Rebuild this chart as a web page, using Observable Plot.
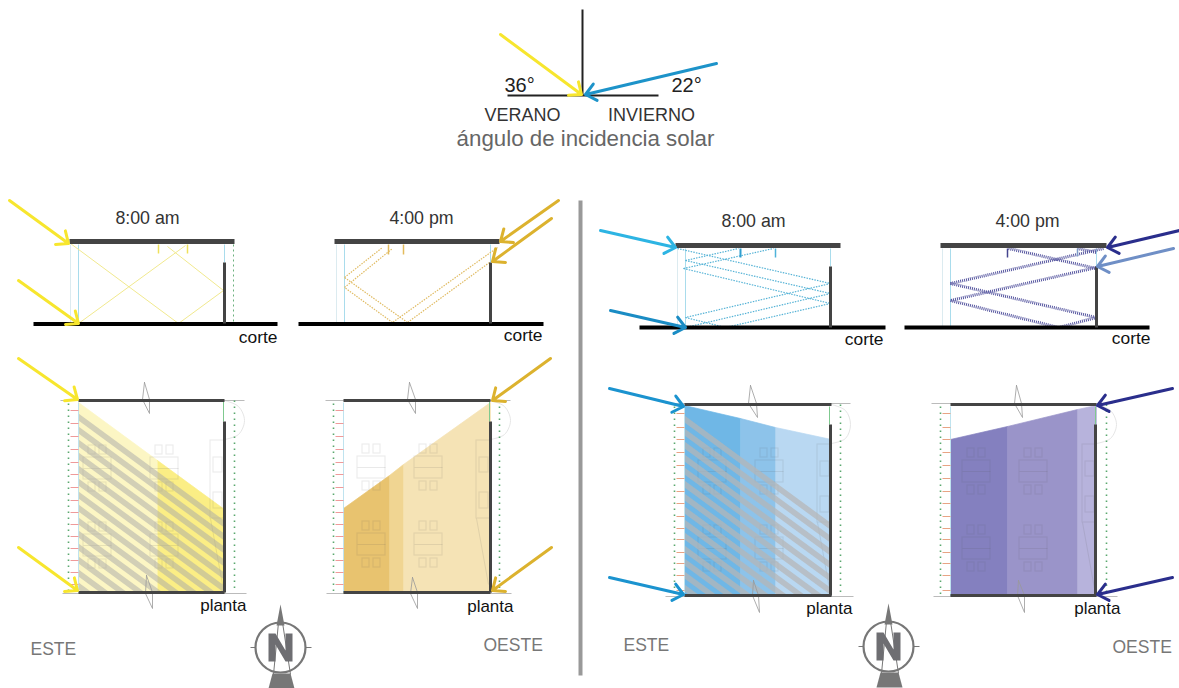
<!DOCTYPE html>
<html><head><meta charset="utf-8">
<style>html,body{margin:0;padding:0;background:#fff}svg{display:block}</style>
<script src="https://cdn.jsdelivr.net/npm/d3@7"></script>
<script src="https://cdn.jsdelivr.net/npm/@observablehq/plot@0.6"></script>
</head><body><script>
const FONT = "'Liberation Sans', Arial, sans-serif";

// --- values (picture units, x right, y down) ---
const axisLines = [[582,9,582,95],[507,95,658,95]];
const incidenceArrows = [[500,34,581,94,"#f7e62e"],[716,63,585,94,"#1d93c9"]];

const roofs   = [[69,241,234,241],[334,241,499,241],[675,245,840,245],[940,245,1106,245]];
const grounds = [[33,323.5,277,323.5],[298,323.5,543,323.5],[639,327,885,327],[904,327,1149,327]];
const sectionWalls = [[224,262,224,323],[490,262,490,323],[830,266,830,327],[1096,266,1096,327]];
const glassLines = [[78,244,78,323],[344,244,344,323],[685,248,685,327],[950,248,950,327],[224,244,224,262],[490,244,490,262],[830,248,830,266],[1096,248,1096,266]];
const faintGlass = [[70,244,70,323],[336,244,336,323],[677,248,677,327],[942,248,942,327]];
const sectionGreenDots = [[233,244,233,323]];

const raysSummerAM = [[70,243,178,323],[178,323,223,290],[223,290,167,246],[78,323,185,245]];
const raysSummerPM = [[497,247,392,322],[489,262,407,322],[392,322,344,287],[407,322,344,277],[344,277,382,247],[344,287,392,248]];
const raysWinterAM = [[677,248,830,283],[685,260,830,293],[683,268,830,303],[830,283,685,317],[830,293,685,327],[685,317,725,327],[830,303,725,327],[685,260,738,248],[683,268,773,248]];
const raysWinterPM = [[1103,248,950,283],[1096,267,950,300],[950,283,1096,317],[950,300,1058,327],[1096,317,1058,327],[1008,248,1096,268],[1077,248,1096,252]];

const baffles = [
  [158,244,158,253,"#efe05a",1.5],[187,244,187,253,"#efe05a",1.5],
  [388,244,388,254,"#e3bb5c",1.5],[403,244,403,254,"#e3bb5c",1.5],
  [740,248,740,257,"#2f9fd0",2],[775,248,775,257,"#4fb3d9",1.5],
  [1007,248,1007,257,"#45458f",1.5],[1077,248,1077,256,"#7f9cc8",1.5]
];
const sectionArrows = [
  [9,200,68,243,"#f7e62e"],[18,280,78,323,"#f7e62e"],
  [558,200,500,241,"#dcb22e"],[551,218,492,261,"#dcb22e"],
  [600,230,675,247,"#2db4e3"],[610,310,685,327,"#1a8cc4"],
  [1179,230,1107,247,"#2a2e8c"],[1173,248,1097,266,"#6f8fc6"]
];
const planArrows = [
  [18,358,77,399,"#f7e62e"],[18,547,77,590,"#f7e62e"],
  [550,358,492,400,"#dcb22e"],[551,547,492,590,"#dcb22e"],
  [609,388,683,406,"#1b93cf"],[609,577,683,594,"#1b93cf"],
  [1172,388,1097,405,"#2a2e8c"],[1172,577,1097,594,"#2a2e8c"]
];

// sun patches on the floor plans: [colour, outline]
const sunPatches = [
  ["#fcf6c4",[[78,402],[157,460],[157,592],[78,592]]],
  ["#fbee85",[[157,460],[224,509],[224,592],[157,592]]],
  ["#e8c36f",[[343,508],[389,475],[389,592],[343,592]]],
  ["#f0d592",[[389,475],[403,464],[403,592],[389,592]]],
  ["#f5e3b5",[[403,464],[490,402],[490,592],[403,592]]],
  ["#6fb7e6",[[684,405],[740,418],[740,595],[684,595]]],
  ["#8dc3ea",[[740,418],[775,427],[775,595],[740,595]]],
  ["#b9d8f2",[[775,427],[831,439],[831,595],[775,595]]],
  ["#8480bf",[[950,439],[1007,426],[1007,595],[950,595]]],
  ["#9a94c9",[[1007,426],[1077,409],[1077,595],[1007,595]]],
  ["#b7b3dc",[[1077,409],[1096,405],[1096,595],[1077,595]]]
];
const stripeStartsEast = [413,426,439,452,465,478,491,504,517,530,543,556,569,582];
const stripeStartsWinter = [415,428,441,454,467,480,493,506,519,532,545,558,571,584];

const planWalls = [
  [78,400,224,400],[78,592,224,592],[224,421,224,592],
  [343,400,490,400],[343,592,490,592],[490,421,490,592],
  [684,404,831,404],[684,595,831,595],[830,424,830,595],
  [950,404,1096,404],[950,595,1096,595],[1095,424,1095,595]
];
const extensionLines = [
  [60,400,244,400],[62,593,246,593],[325,400,510,400],[326,593,511,593],
  [665,403,850,403],[665,596,853,596],[931,403,1112,403],[933,596,1117,596]
];
const planGlass = [[78,402,78,592],[343,402,343,592],[684,406,684,595],[950,406,950,595]];
const planGreen = [[223,401,223,421],[489,401,489,421],[829,406,829,424],[1095,406,1095,424]];
const planDots = [[68,403,68,592],[234,400,234,592],[333,403,333,592],[499,400,499,592],[674,406,674,596],[840,404,840,596],[940,406,940,596],[1106,404,1106,596]];
const louvreYsLower = [410,423,436,449,462,474,487,500,512,524,536,548,560,572,584];
const louvreYsUpper = [413,427,439,452,465,478,491,503,516,528,539,552,563,575,590];
const louvres = [[70,78,louvreYsLower,"#ef9a9a"],[335,343,louvreYsLower,"#ef9a9a"],[676,684,louvreYsUpper,"#e9a384"],[942,950,louvreYsUpper,"#e9a384"]];

const breakMarks = [
  [[144,382],[142,399],[149,413],[149,399],[144,382]],[[146,575],[145,593],[152,608],[152,592],[146,575]],
  [[409,382],[407,399],[415,413],[415,399],[409,382]],[[412,577],[410,593],[417,608],[417,592],[412,577]],
  [[750,385],[748,403],[757,417],[756,403],[750,385]],[[753,580],[752,595],[759,612],[758,595],[753,580]],
  [[1016,385],[1014,403],[1022,417],[1021,403],[1016,385]],[[1018,580],[1017,595],[1024,612],[1024,595],[1018,580]]
];
const doorArcs = [
  [[224,400],[238,406],[244,420],[238,434],[224,439]],
  [[490,400],[504,406],[510,420],[504,434],[490,439]],
  [[831,404],[845,410],[850,424],[845,438],[831,443]],
  [[1096,404],[1110,410],[1116,424],[1110,438],[1096,443]]
];
const tableOrigins = [[150,457],[83,457],[83,534],[150,534],[357,456],[414,456],[357,533],[414,533],[755,460],[698,460],[698,537],[755,537],[962,460],[1019,460],[962,537],[1019,537]];
const counterRights = [[224,400],[490,400],[831,404],[1096,404]];

const divider = [[580,200,580,675]];

const compassCentres = [[280,647],[888,646]];
const compassN = [[-12,-14],[-5,-14],[5,3],[5,-14],[12,-14],[12,14],[5,14],[-5,-3],[-5,14],[-12,14]];
const compassSpike = [[0,-43],[4,-22],[-4,-22]];
const compassBase = [[-8,26],[10,26],[14,41],[-12,41]];
const compassThin = [[-2,-25,-7,27],[2,-25,10,27],[-30,0,-25,0],[25,0,31,0]];

const labels = [
  ["36°",504,92,20,"#222","start"],["22°",671,92,20,"#222","start"],
  ["VERANO",522,121,18,"#333","middle"],["INVIERNO",651,121,18,"#333","middle"],
  ["ángulo de incidencia solar",585,146,22.3,"#666","middle"],
  ["8:00 am",147,224,17.8,"#333","middle"],["4:00 pm",421,224,17.8,"#333","middle"],
  ["8:00 am",753,227,17.8,"#333","middle"],["4:00 pm",1027,227,17.8,"#333","middle"],
  ["corte",277,343,17.4,"#111","end"],["corte",542,341,17.4,"#111","end"],
  ["corte",883,345,17.4,"#111","end"],["corte",1150,344,17.4,"#111","end"],
  ["planta",246,611,17,"#111","end"],["planta",513,612,17,"#111","end"],
  ["planta",852,614,17,"#111","end"],["planta",1120,614,17,"#111","end"],
  ["ESTE",30,655,17.5,"#777","start"],["OESTE",483,651,17.5,"#777","start"],
  ["ESTE",623,651,17.5,"#777","start"],["OESTE",1112,653,17.5,"#777","start"]
];

// --- shapes derived from the values above ---
const STRIPE_SLOPE = 0.735, STRIPE_H = 7;
function stripe(x0, x1, yBottom, y0) {
  const end = y => Math.min(x1, x0 + (yBottom - y) / STRIPE_SLOPE);
  const a = end(y0), b = end(y0 + STRIPE_H);
  const pts = [[x0,y0],[a, Math.min(yBottom, y0 + (a-x0)*STRIPE_SLOPE)]];
  if (a === x1 && b < x1) pts.push([x1,yBottom]);
  pts.push([b, Math.min(yBottom, y0 + STRIPE_H + (b-x0)*STRIPE_SLOPE)],[x0,y0+STRIPE_H]);
  return pts;
}
const segs = a => a.map(([x1,y1,x2,y2,c,w]) => ({x1,y1,x2,y2,c,w}));
const polyRows = (list, prefix) => list.flatMap((pts,i) => pts.map(([x,y]) => ({x,y,id:prefix+i})));
const link = (a,o) => Plot.link(segs(a),{x1:"x1",y1:"y1",x2:"x2",y2:"y2",...o});
const fillPoly = (list,color,opacity=1,edge="none") => Plot.line(polyRows(list,"p"),{x:"x",y:"y",z:"id",fill:color,fillOpacity:opacity,stroke:edge,strokeWidth:0.7});
const thinLine = (list,o) => Plot.line(polyRows(list,"l"),{x:"x",y:"y",z:"id",...o});
const arrows = (a,w,len) => Plot.arrow(segs(a),{x1:"x1",y1:"y1",x2:"x2",y2:"y2",stroke:"c",strokeWidth:w,headLength:len,headAngle:80});

const tableSegs = tableOrigins.flatMap(([x,y]) => [[x,y+11,x+28,y+11]]);
const rectRows = [
  ...tableOrigins.map(([x,y]) => [x,y,x+28,y+22]),
  ...tableOrigins.flatMap(([x,y]) => [[x+5,y-12,x+12,y-3],[x+16,y-12,x+23,y-3],[x+5,y+25,x+12,y+34],[x+16,y+25,x+23,y+34]]),
  ...counterRights.flatMap(([x,y]) => [[x-14,y+40,x,y+118],[x-11,y+57,x-2,y+72],[x-11,y+92,x-2,y+108]])
].map(([x1,y1,x2,y2]) => ({x1,y1,x2,y2}));
const counterDiag = counterRights.map(([x,y]) => [x-14,y+118,x-2,y+184]);

const louvreSegs = louvres.flatMap(([a,b,ys,c]) => ys.map(y => [a,y,b,y,c]));
const at = (pts,[cx,cy]) => pts.map(([x,y]) => [x+cx,y+cy]);
const nPolys = compassCentres.map(c => at(compassN,c));
const spikePolys = compassCentres.map(c => at(compassSpike,c));
const basePolys = compassCentres.map(c => at(compassBase,c));
const compassThinSegs = compassCentres.flatMap(([cx,cy]) => compassThin.map(([a,b,c,d]) => [a+cx,b+cy,c+cx,d+cy]));

const plot = Plot.plot({
  width:1179, height:688, margin:0,
  x:{domain:[0,1179],range:[0,1179],axis:null},
  y:{domain:[0,688],range:[0,688],axis:null},
  style:{background:"#fff",fontFamily:FONT},
  marks:[
    // plan sun patches, faint furniture, then stripes
    ...sunPatches.map(([c,p]) => fillPoly([p],c,1,c)),
    Plot.rect(rectRows,{x1:"x1",y1:"y1",x2:"x2",y2:"y2",fill:"none",stroke:"#555",strokeOpacity:0.13,strokeWidth:1}),
    link(tableSegs,{stroke:"#555",strokeOpacity:0.13}),
    link(counterDiag,{stroke:"#555",strokeOpacity:0.13}),
    fillPoly(stripeStartsEast.map(y => stripe(78,224,592,y)),"#a8a8a8",0.5),
    fillPoly(stripeStartsWinter.map(y => stripe(684,831,595,y)),"#b5b5b5",0.72),
    thinLine(doorArcs,{stroke:"#e6e6e6",strokeWidth:1,curve:"catmull-rom"}),
    // plan lines
    link(extensionLines,{stroke:"#bbb",strokeWidth:1}),
    link(planGlass,{stroke:"#bfe3ef",strokeWidth:1}),
    link(planGreen,{stroke:"#7fc98f",strokeWidth:1}),
    link(louvreSegs,{stroke:"c",strokeWidth:1}),
    link(planDots,{stroke:"#5aa86e",strokeWidth:1.6,strokeDasharray:"1.5 4.5"}),
    thinLine(breakMarks,{stroke:"#999",strokeWidth:0.8}),
    link(planWalls,{stroke:"#444",strokeWidth:3}),
    // section lines
    link(faintGlass,{stroke:"#dcebf0",strokeWidth:1}),
    link(glassLines,{stroke:"#a9dcec",strokeWidth:1}),
    link(sectionGreenDots,{stroke:"#6bb07c",strokeWidth:1,strokeDasharray:"2 3"}),
    link(raysSummerAM,{stroke:"#f1e98e",strokeWidth:1}),
    link(raysSummerPM,{stroke:"#e0bb62",strokeWidth:1.2,strokeDasharray:"1.5 1.2"}),
    link(raysWinterAM,{stroke:"#56b3d6",strokeWidth:1.2,strokeDasharray:"1.5 1.2"}),
    link(raysWinterPM,{stroke:"#55559f",strokeWidth:3,strokeDasharray:"1 1"}),
    link(baffles,{stroke:"c",strokeWidth:"w"}),
    link(roofs,{stroke:"#444",strokeWidth:5}),
    link(grounds,{stroke:"#000",strokeWidth:4}),
    link(sectionWalls,{stroke:"#444",strokeWidth:3}),
    // incidence diagram
    link(axisLines,{stroke:"#222",strokeWidth:2}),
    arrows(incidenceArrows,3,6.5),
    arrows(sectionArrows,3,6.5),
    arrows(planArrows,3,6.5),
    // divider
    link(divider,{stroke:"#999",strokeWidth:4}),
    // compasses
    fillPoly(spikePolys,"#777"),
    fillPoly(basePolys,"#777"),
    link(compassThinSegs,{stroke:"#777",strokeWidth:1}),
    Plot.dot(compassCentres,{x:d=>d[0],y:d=>d[1],r:25,fill:"none",stroke:"#777",strokeWidth:2.2}),
    fillPoly(nPolys,"#6e6e72"),
    // texts
    ...["start","middle","end"].map(anchor => Plot.text(labels.filter(l=>l[5]===anchor),{
      x:d=>d[1],y:d=>d[2],text:d=>d[0],fontSize:d=>d[3],fill:d=>d[4],textAnchor:anchor,lineAnchor:"bottom",dy:-1
    }))
  ]
});
document.body.appendChild(plot);
</script></body></html>
